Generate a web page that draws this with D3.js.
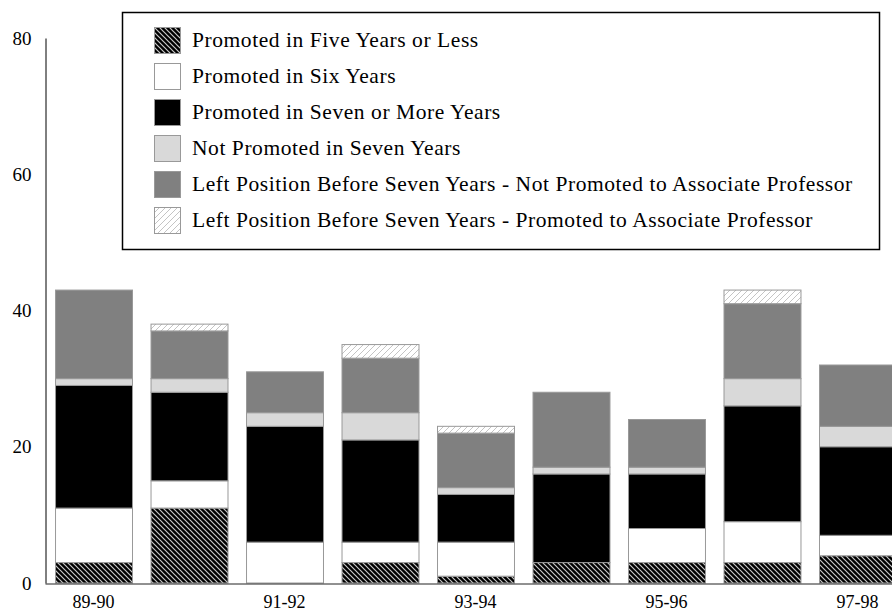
<!DOCTYPE html>
<html><head><meta charset="utf-8">
<script src="https://cdn.jsdelivr.net/npm/d3@7"></script>
<style>body{margin:0;background:#fff}</style>
</head><body>
<svg id="chart" width="892" height="612"></svg>
<script>
const categories = ["89-90","90-91","91-92","92-93","93-94","94-95","95-96","96-97","97-98"];
const fiveOrLess      = [3,11,0,3,1,3,3,3,4];
const sixYears        = [8,4,6,3,5,0,5,6,3];
const sevenOrMore     = [18,13,17,15,7,13,8,17,13];
const notPromoted     = [1,2,2,4,1,1,1,4,3];
const leftNotPromoted = [13,7,6,8,8,11,7,11,9];
const leftPromoted    = [0,1,0,2,1,0,0,2,0];
const seriesNames = [
  "Promoted in Five Years or Less",
  "Promoted in Six Years",
  "Promoted in Seven or More Years",
  "Not Promoted in Seven Years",
  "Left Position Before Seven Years - Not Promoted to Associate Professor",
  "Left Position Before Seven Years - Promoted to Associate Professor"
];
const seriesKeys = ["five","six","seven","notp","leftn","leftp"];
const seriesFills = ["url(#hatchDark)","#ffffff","#000000","#d9d9d9","#808080","url(#hatchLight)"];
const yTicks = [0,20,40,60,80];
const xTickLabels = ["89-90","91-92","93-94","95-96","97-98"];

const rows = categories.map((c,i)=>({cat:c, five:fiveOrLess[i], six:sixYears[i], seven:sevenOrMore[i],
  notp:notPromoted[i], leftn:leftNotPromoted[i], leftp:leftPromoted[i]}));

const svg = d3.select("#chart");
const defs = svg.append("defs");
const pd = defs.append("pattern").attr("id","hatchDark").attr("patternUnits","userSpaceOnUse")
  .attr("width",5).attr("height",5);
pd.append("rect").attr("width",5).attr("height",5).attr("fill","#000");
pd.append("path").attr("d","M-1,-1 L6,6 M-1,4 L1,6 M4,-1 L6,1").attr("stroke","#c8c8c8").attr("stroke-width",1.2);
const pl = defs.append("pattern").attr("id","hatchLight").attr("patternUnits","userSpaceOnUse")
  .attr("width",6).attr("height",6);
pl.append("rect").attr("width",6).attr("height",6).attr("fill","#fff");
pl.append("path").attr("d","M0,6 L6,0 M-1,1 L1,-1 M5,7 L7,5").attr("stroke","#c4c4c4").attr("stroke-width",1);

const x = d3.scaleBand().domain(categories).range([45,906]).paddingInner(0.194).paddingOuter(0.105);
const y = d3.scaleLinear().domain([0,80]).range([583,38]);
const color = d3.scaleOrdinal().domain(seriesKeys).range(seriesFills);

const stacked = d3.stack().keys(seriesKeys)(rows);

svg.append("g").selectAll("g").data(stacked).join("g")
  .attr("fill", d=>color(d.key))
  .selectAll("rect").data(d=>d.filter(p=>p[1]-p[0]>0)).join("rect")
  .attr("x", d=>x(d.data.cat)+0.5)
  .attr("y", d=>y(d[1]))
  .attr("width", x.bandwidth())
  .attr("height", d=>y(d[0])-y(d[1]))
  .attr("stroke","#999").attr("stroke-width",1);

const tickFont = "'Liberation Serif', serif";
const yAxis = svg.append("g").attr("transform","translate(45.5,0)")
  .call(d3.axisLeft(y).tickValues(yTicks).tickSize(0).tickSizeOuter(0).tickPadding(14));
yAxis.select(".domain").attr("stroke","#000");
yAxis.selectAll("text").attr("font-family",tickFont).attr("font-size",19).attr("fill","#000");

const xAxis = svg.append("g").attr("transform","translate(0,583.5)")
  .call(d3.axisBottom(x).tickSize(0).tickSizeOuter(0).tickPadding(12)
    .tickFormat(d=> xTickLabels.includes(d) ? d : ""));
xAxis.select(".domain").attr("stroke","#222");
xAxis.selectAll("text").attr("font-family",tickFont).attr("font-size",18).attr("fill","#000");

// legend
const lg = svg.append("g");
lg.append("rect").attr("x",122.5).attr("y",12.5).attr("width",757).attr("height",237)
  .attr("fill","#fff").attr("stroke","#000").attr("stroke-width",1.5);
const items = lg.selectAll("g.item").data(seriesKeys).join("g").attr("class","item")
  .attr("transform",(d,i)=>`translate(154,${27+i*36})`);
items.append("rect").attr("x",0.5).attr("y",0.5).attr("width",26).attr("height",26)
  .attr("fill",d=>color(d)).attr("stroke","#999").attr("stroke-width",1);
const texts = items.append("text").attr("x",38).attr("y",20)
  .attr("font-family",tickFont).attr("font-size",21.5).attr("fill","#000")
  .text((d,i)=>seriesNames[i]);
// fit legend text width to the reference
let maxW = 0; texts.each(function(){ maxW = Math.max(maxW, this.getComputedTextLength()); });
const ls = Math.max(0, (660 - maxW) / (seriesNames[4].length - 1));
texts.attr("letter-spacing", ls.toFixed(2));
</script>
</body></html>
